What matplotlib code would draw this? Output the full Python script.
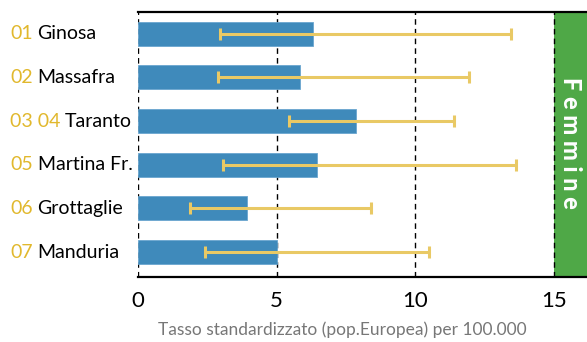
import numpy as np
import matplotlib.pyplot as plt
import matplotlib.transforms as mtransforms

plt.rcParams['font.family'] = ['Lato', 'DejaVu Sans']

# dati
codici = ['01', '02', '03 04', '05', '06', '07']
comuni = ['Ginosa', 'Massafra', 'Taranto', 'Martina Fr.', 'Grottaglie', 'Manduria']
tasso = [6.32, 5.85, 7.87, 6.46, 3.94, 5.02]
ic_inf = [2.96, 2.90, 5.45, 3.07, 1.88, 2.42]
ic_sup = [13.47, 11.95, 11.40, 13.65, 8.41, 10.50]

fig = plt.figure(figsize=(5.87, 3.42), dpi=100, facecolor='white')
ax = fig.add_axes([138 / 587, 65 / 342, 449 / 587, 265 / 342])

y = np.arange(len(comuni))
tasso = np.array(tasso)
err = [tasso - np.array(ic_inf), np.array(ic_sup) - tasso]

# pannello verde
ax.axvspan(15, 20, color='#4fa847', zorder=0.5, lw=0)
for xv in [0, 5, 10, 15]:
    ax.axvline(xv, color='black', lw=1, ls=(0, (4, 3)), zorder=1)

ax.barh(y, tasso, height=0.55, color='#3f8abb', edgecolor='#6aa6cf', lw=0.6, zorder=2)
ax.errorbar(tasso, y, xerr=err, fmt='none', ecolor='#e9c965', elinewidth=2.2,
            capsize=4.2, capthick=2.2, zorder=3)

ax.set_xlim(0, 16.2)
ax.set_ylim(5.57, -0.5)
ax.set_xticks([0, 5, 10, 15])
ax.set_yticks([])
ax.tick_params(axis='x', length=0, pad=10, labelsize=16)
for s in ['left', 'right']:
    ax.spines[s].set_visible(False)
for s in ['top', 'bottom']:
    ax.spines[s].set_linewidth(1.6)
    ax.spines[s].set_zorder(4)

# etichette dei comuni
tr = mtransforms.blended_transform_factory(fig.transFigure, ax.transData)
for yi, c, n in zip(y, codici, comuni):
    t = ax.text(10 / 587, yi, c, transform=tr, color='#e1b82d', fontsize=14,
                ha='left', va='center')
    ax.annotate(n, xy=(1, 0), xycoords=t, xytext=(3.5, 0), textcoords='offset points',
                ha='left', va='bottom', fontsize=14, color='black')

ax.text(15.6, 2.5, 'F e m m i n e', color='white', fontsize=17, fontweight='black',
        rotation=-90, ha='center', va='center', zorder=5)

fig.text(342 / 587, 12 / 342, 'Tasso standardizzato (pop.Europea) per 100.000',
         ha='center', va='center', fontsize=12.5, color='#777777')

plt.savefig('out.png', dpi=100)
